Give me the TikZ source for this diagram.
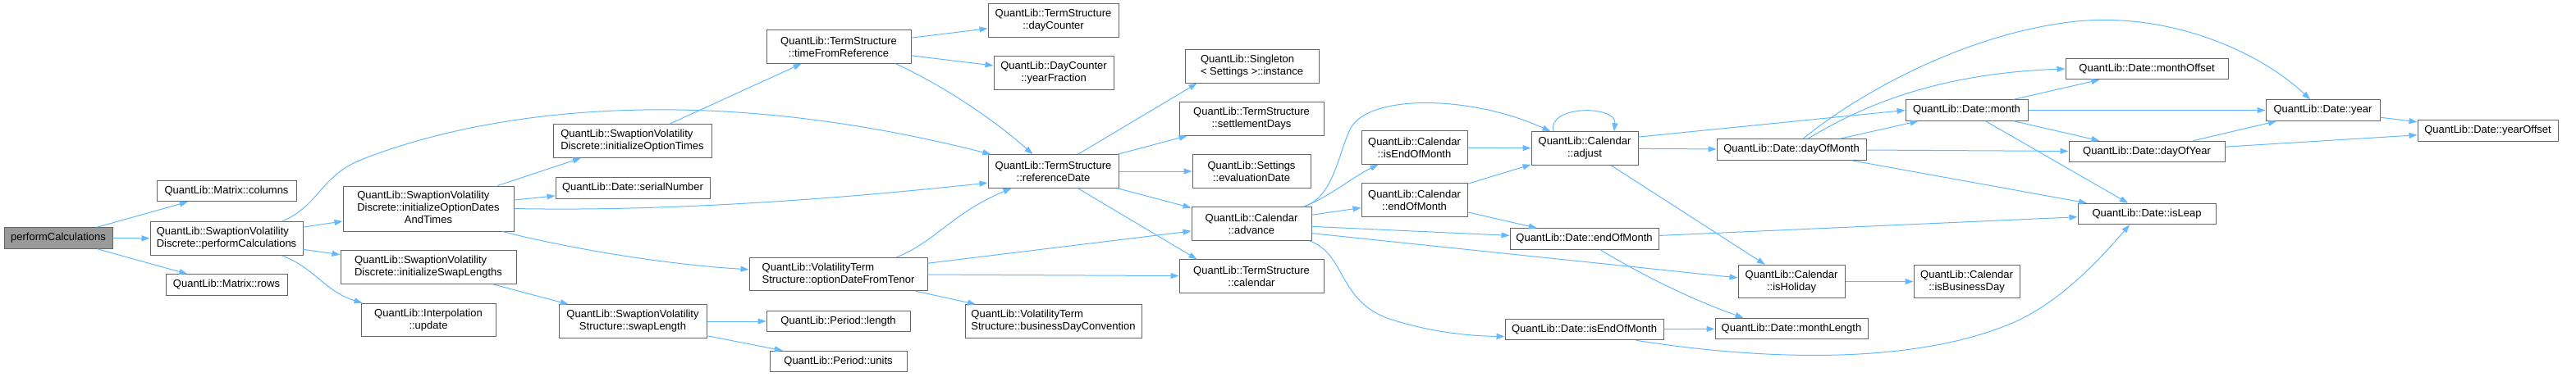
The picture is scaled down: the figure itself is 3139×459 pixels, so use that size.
\documentclass[tikz,border=0pt]{standalone}
\usepackage{fontspec}
\setmainfont{Liberation Sans}
\usetikzlibrary{arrows.meta}
\definecolor{edgeblue}{HTML}{63B8FF}
\definecolor{boxgray}{HTML}{666666}
\definecolor{rootgray}{HTML}{999999}

\begin{document}
\begin{tikzpicture}[x=1pt, y=-1pt, >={Triangle[length=10pt,width=7pt]},
        fn/.style={draw=boxgray, fill=white, line width=1pt, font=\fontsize{13}{15}\selectfont,
            inner xsep=3pt, inner ysep=1pt, align=center, minimum height=25.5pt},
        fntwo/.style={fn, minimum height=40.5pt},
        fnthree/.style={fn, minimum height=55pt},
        call/.style={->, edgeblue, line width=1pt}]
        \useasboundingbox (0,0) rectangle (3139,459);

        % Caller and first level
        \node[fn, fill=rootgray, minimum width=132pt] (root) at (71,290.5) {performCalculations};
        \node[fn, minimum width=170pt] (mcols) at (276,233) {QuantLib::Matrix::columns};
        \node[fntwo, align=left, minimum width=186pt] (svdPC) at (276,291) {QuantLib::SwaptionVolatility\\Discrete::performCalculations};
        \node[fn, minimum width=148pt] (mrows) at (276,347.5) {QuantLib::Matrix::rows};

        % Second level
        \node[fnthree, minimum width=208pt] (initODT) at (522,254.5)
            {\begin{tabular}{@{}l@{}}QuantLib::SwaptionVolatility\\Discrete::initializeOptionDates\\\multicolumn{1}{@{}c@{}}{AndTimes}\end{tabular}};
        \node[fntwo, align=left, minimum width=214pt] (initSL) at (522,326) {QuantLib::SwaptionVolatility\\Discrete::initializeSwapLengths};
        \node[fntwo, minimum width=164pt] (interpUpd) at (522,390.5) {QuantLib::Interpolation\\::update};

        % Third level
        \node[fntwo, align=left, minimum width=193pt] (initOT) at (770.5,172) {QuantLib::SwaptionVolatility\\Discrete::initializeOptionTimes};
        \node[fn, minimum width=188pt] (serialNum) at (771,229.5) {QuantLib::Date::serialNumber};
        \node[fntwo, minimum width=180pt] (swapLen) at (771,392) {QuantLib::SwaptionVolatility\\Structure::swapLength};

        % Fourth level
        \node[fntwo, minimum width=176pt] (timeFromRef) at (1022,57) {QuantLib::TermStructure\\::timeFromReference};
        \node[fntwo, align=left, minimum width=217pt] (oDFT) at (1021.5,334.5) {QuantLib::VolatilityTerm\\Structure::optionDateFromTenor};
        \node[fn, minimum width=175pt] (perLen) at (1021.5,392) {QuantLib::Period::length};
        \node[fn, minimum width=167pt] (perUnits) at (1021.5,441) {QuantLib::Period::units};

        % Fifth level
        \node[fntwo, minimum width=159pt] (tsDayCounter) at (1283.5,25) {QuantLib::TermStructure\\::dayCounter};
        \node[fntwo, minimum width=146pt] (dcYearFrac) at (1284,89) {QuantLib::DayCounter\\::yearFraction};
        \node[fntwo, minimum width=159pt] (refDate) at (1283.5,209) {QuantLib::TermStructure\\::referenceDate};
        \node[fntwo, align=left, minimum width=215pt] (bdc) at (1283.5,392) {QuantLib::VolatilityTerm\\Structure::businessDayConvention};

        % Sixth level
        \node[fntwo, align=left, minimum width=163pt] (singleton) at (1525.5,81) {QuantLib::Singleton\\\textless{} Settings \textgreater::instance};
        \node[fntwo, minimum width=176pt] (settleDays) at (1525,145) {QuantLib::TermStructure\\::settlementDays};
        \node[fntwo, minimum width=144pt] (evalDate) at (1525,209) {QuantLib::Settings\\::evaluationDate};
        \node[fntwo, minimum width=146pt] (calAdvance) at (1525,273) {QuantLib::Calendar\\::advance};
        \node[fntwo, minimum width=176pt] (tsCalendar) at (1525,337) {QuantLib::TermStructure\\::calendar};

        % Seventh level
        \node[fntwo, minimum width=129pt] (calIsEOM) at (1723.5,180) {QuantLib::Calendar\\::isEndOfMonth};
        \node[fntwo, minimum width=129pt] (calEOM) at (1723.5,244) {QuantLib::Calendar\\::endOfMonth};

        % Eighth level
        \node[fntwo, minimum width=130pt] (calAdjust) at (1931,181) {QuantLib::Calendar\\::adjust};
        \node[fn, minimum width=181pt] (dateEOM) at (1930.5,291.5) {QuantLib::Date::endOfMonth};
        \node[fn, minimum width=193pt] (dateIsEOM) at (1930.5,402) {QuantLib::Date::isEndOfMonth};

        % Ninth level
        \node[fn, minimum width=182pt] (dayOfMonth) at (2183,182.5) {QuantLib::Date::dayOfMonth};
        \node[fntwo, minimum width=130pt] (isHoliday) at (2183,343.5) {QuantLib::Calendar\\::isHoliday};
        \node[fn, minimum width=186pt] (monthLength) at (2183,401) {QuantLib::Date::monthLength};
        \node[fn, minimum width=149pt] (dateMonth) at (2396.5,134.5) {QuantLib::Date::month};
        \node[fntwo, minimum width=129pt] (isBizDay) at (2396.5,343.5) {QuantLib::Calendar\\::isBusinessDay};

        % Last levels
        \node[fn, minimum width=198pt] (monthOffset) at (2616,84) {QuantLib::Date::monthOffset};
        \node[fn, minimum width=190pt] (dayOfYear) at (2616,185) {QuantLib::Date::dayOfYear};
        \node[fn, minimum width=168pt] (isLeap) at (2616,261) {QuantLib::Date::isLeap};
        \node[fn, minimum width=139pt] (dateYear) at (2830.5,134.5) {QuantLib::Date::year};
        \node[fn, minimum width=171pt] (yearOffset) at (3031.5,159.5) {QuantLib::Date::yearOffset};

        % Calls from performCalculations
        \draw[call] (root) -- (mcols);
        \draw[call] (root) -- (svdPC);
        \draw[call] (root) -- (mrows);

        % Calls from the swaption volatility functions
        \draw[call] ([xshift=-26pt]svdPC.north east) .. controls (390,250) and (390,215) .. (440,195)
            .. controls (560,147) and (820,90) .. ([xshift=4pt]refDate.north west);
        \draw[call] (svdPC) -- (initODT);
        \draw[call] (svdPC) -- (initSL);
        \draw[call] ([xshift=-26pt]svdPC.south east) .. controls (385,328) and (395,355) .. ([xshift=2pt]interpUpd.north west);
        \draw[call] (initODT) -- (initOT);
        \draw[call] (initODT) -- (serialNum);
        \draw[call] (initODT.east) .. controls (800,258) and (1000,245) .. (refDate.190);
        \draw[call] ([xshift=-14pt]initODT.south east) .. controls (680,300) and (800,322) .. (oDFT.177);
        \draw[call] (initOT) -- (timeFromRef);
        \draw[call] (initSL) -- (swapLen);
        \draw[call] (swapLen) -- (perLen);
        \draw[call] (swapLen) -- (perUnits);

        % Calls from the term structures
        \draw[call] (timeFromRef) -- (tsDayCounter);
        \draw[call] (timeFromRef) -- (dcYearFrac);
        \draw[call] ([xshift=-19pt]timeFromRef.south east) .. controls (1150,105) and (1210,145) .. ([xshift=-25pt]refDate.north);
        \draw[call] ([xshift=-38pt]oDFT.north east) .. controls (1140,295) and (1160,260) .. ([xshift=29pt]refDate.south west);
        \draw[call] (oDFT) -- (calAdvance);
        \draw[call] (oDFT) -- (tsCalendar);
        \draw[call] (oDFT) -- (bdc);
        \draw[call] ([xshift=30pt]refDate.north) -- ([xshift=15pt]singleton.south west);
        \draw[call] (refDate) -- (settleDays);
        \draw[call] (refDate) -- (evalDate);
        \draw[call] (refDate) -- (calAdvance);
        \draw[call] ([xshift=30pt]refDate.south) -- ([xshift=22pt]tsCalendar.north west);

        % Calls from the calendar
        \draw[call] ([xshift=-10pt]calAdvance.north east) .. controls (1625,240) and (1630,190) .. (1645,158)
            .. controls (1665,115) and (1790,115) .. ([xshift=24pt]calAdjust.north west);
        \draw[call] ([xshift=-10pt]calAdvance.north east) .. controls (1620,240) and (1650,215) .. ([xshift=21pt]calIsEOM.south west);
        \draw[call] (calAdvance) -- (calEOM);
        \draw[call] (calAdvance) -- (dateEOM);
        \draw[call] (calAdvance.351) -- (isHoliday.176);
        \draw[call] ([xshift=-3pt]calAdvance.south east) .. controls (1640,310) and (1630,365) .. (1690,388)
            .. controls (1740,405) and (1790,410) .. (dateIsEOM.185);
        \draw[call] (calIsEOM) -- (calAdjust);
        \draw[call] (calEOM) -- (calAdjust);
        \draw[call] (calEOM) -- (dateEOM);
        \draw[call] ([xshift=-38pt]calAdjust.north) .. controls (1885,128) and (1970,128) .. ([xshift=36pt]calAdjust.north);
        \draw[call] (calAdjust) -- (dayOfMonth);
        \draw[call] (calAdjust.12) -- (dateMonth.west);
        \draw[call] (calAdjust) -- (isHoliday);
        \draw[call] (isHoliday) -- (isBizDay);

        % Calls from the date functions
        \draw[call] (dateEOM) -- (isLeap);
        \draw[call] ([xshift=19.5pt]dateEOM.south) .. controls (2000,335) and (2060,365) .. ([xshift=35pt]monthLength.north west);
        \draw[call] (dateIsEOM) -- (monthLength);
        \draw[call] ([xshift=-34pt]dateIsEOM.south east) .. controls (2150,440) and (2330,445) .. (2450,395)
            .. controls (2510,370) and (2560,315) .. ([xshift=-21pt]isLeap.south);
        \draw[call] (dayOfMonth) -- (dateMonth);
        \draw[call] ([xshift=20pt]dayOfMonth.north) .. controls (2260,135) and (2350,90) .. (monthOffset.west);
        \draw[call] ([xshift=14pt]dayOfMonth.north) .. controls (2270,110) and (2400,40) .. (2530,26)
            .. controls (2640,15) and (2750,60) .. ([xshift=-15.5pt]dateYear.north);
        \draw[call] (dayOfMonth) -- (dayOfYear);
        \draw[call] (dayOfMonth) -- (isLeap);
        \draw[call] (dateMonth) -- (monthOffset);
        \draw[call] (dateMonth) -- (dateYear);
        \draw[call] (dateMonth) -- (dayOfYear);
        \draw[call] (dateMonth) -- (isLeap);
        \draw[call] (dayOfYear) -- (dateYear);
        \draw[call] (dayOfYear) -- (yearOffset);
        \draw[call] (dateYear) -- (yearOffset);
    \end{tikzpicture}
\end{document}
